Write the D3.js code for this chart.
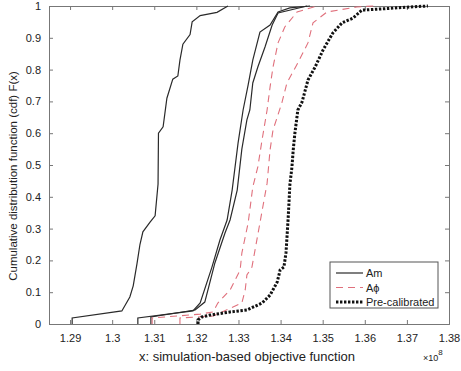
<!DOCTYPE html>
<html>
<head>
<meta charset="utf-8">
<script src="https://d3js.org/d3.v7.min.js"></script>
<style>
  body { margin: 0; background: #fff; }
  svg text { font-family: "Liberation Sans", Arial, sans-serif; fill: #222; }
</style>
</head>
<body>
<script>
// tick values
var xTicks = [1.29, 1.30, 1.31, 1.32, 1.33, 1.34, 1.35, 1.36, 1.37, 1.38];
var yTicks = [0, 0.1, 0.2, 0.3, 0.4, 0.5, 0.6, 0.7, 0.8, 0.9, 1];

// Am runs (solid black)  [x, F(x)]
var am1 = [[1.2905,0],[1.2905,0.019],[1.3023,0.041],[1.3042,0.085],[1.3050,0.12],[1.3059,0.19],[1.3066,0.25],[1.3073,0.29],[1.3090,0.32],[1.3102,0.34],[1.3109,0.44],[1.3110,0.60],[1.3121,0.62],[1.3130,0.71],[1.3144,0.77],[1.3156,0.78],[1.3161,0.83],[1.3168,0.88],[1.3185,0.91],[1.3190,0.95],[1.3209,0.97],[1.3249,0.98],[1.3275,1.0]];
var am2 = [[1.3061,0],[1.3061,0.019],[1.3192,0.041],[1.3209,0.066],[1.3237,0.179],[1.3256,0.264],[1.3273,0.327],[1.3285,0.421],[1.3299,0.569],[1.3311,0.673],[1.3323,0.752],[1.3334,0.830],[1.3351,0.918],[1.3375,0.940],[1.3394,0.981],[1.3422,0.994],[1.3470,1.0]];
var am3 = [[1.3092,0],[1.3092,0.022],[1.3197,0.044],[1.3220,0.069],[1.3244,0.192],[1.3268,0.286],[1.3280,0.327],[1.3297,0.421],[1.3308,0.55],[1.3320,0.642],[1.3327,0.673],[1.3334,0.758],[1.3346,0.808],[1.3363,0.871],[1.3380,0.940],[1.3394,0.978],[1.3463,1.0]];

// A-phi runs (dashed red)
var aphi1 = [[1.3095,0],[1.3095,0.019],[1.3209,0.031],[1.3240,0.038],[1.3251,0.066],[1.3280,0.107],[1.3304,0.170],[1.3308,0.223],[1.3323,0.318],[1.3334,0.431],[1.3346,0.494],[1.3356,0.579],[1.3368,0.673],[1.3375,0.745],[1.3382,0.808],[1.3394,0.884],[1.3410,0.934],[1.3439,0.981],[1.3486,1.0]];
var aphi2 = [[1.3161,0],[1.3161,0.019],[1.3240,0.025],[1.3308,0.066],[1.3316,0.107],[1.3320,0.154],[1.3332,0.179],[1.3351,0.318],[1.3368,0.443],[1.3375,0.547],[1.3382,0.61],[1.3403,0.695],[1.3415,0.758],[1.3441,0.821],[1.3465,0.884],[1.3477,0.947],[1.3510,0.981],[1.3581,0.997],[1.3620,1.0]];

// pre-calibrated (dotted)
var precal = [[1.3204,0],[1.3204,0.013],[1.3213,0.022],[1.3232,0.028],[1.3280,0.038],[1.3320,0.044],[1.3356,0.066],[1.3375,0.091],[1.3392,0.132],[1.3399,0.170],[1.3408,0.179],[1.3413,0.226],[1.3418,0.333],[1.3420,0.384],[1.3422,0.437],[1.3427,0.494],[1.3430,0.547],[1.3434,0.60],[1.3441,0.673],[1.3451,0.698],[1.3465,0.767],[1.3482,0.808],[1.3501,0.862],[1.3524,0.915],[1.3546,0.947],[1.3572,0.962],[1.3593,0.987],[1.3643,0.991],[1.3707,0.997],[1.3750,1.0]];

var legendNames = ["Am", "A\u03d5", "Pre-calibrated"];

var width = 461, height = 371;
var margin = {left: 49, right: 12, top: 6, bottom: 47};

var svg = d3.select("body").append("svg")
    .attr("width", width)
    .attr("height", height);

var x = d3.scaleLinear().domain([1.285, 1.38]).range([margin.left, width - margin.right]);
var y = d3.scaleLinear().domain([0, 1]).range([height - margin.bottom, margin.top]);

var fmt = function(d) { return String(+d.toFixed(2)); };

// axes, ticks pointing inward like matlab
svg.append("g")
    .attr("transform", "translate(0," + y(0) + ")")
    .call(d3.axisBottom(x).tickValues(xTicks).tickSize(-4).tickPadding(10).tickFormat(fmt));
svg.append("g")
    .attr("transform", "translate(0," + y(1) + ")")
    .call(d3.axisTop(x).tickValues(xTicks).tickSize(-4).tickFormat(""));
svg.append("g")
    .attr("transform", "translate(" + x.range()[0] + ",0)")
    .call(d3.axisLeft(y).tickValues(yTicks).tickSize(-4).tickPadding(8).tickFormat(fmt));
svg.append("g")
    .attr("transform", "translate(" + x.range()[1] + ",0)")
    .call(d3.axisRight(y).tickValues(yTicks).tickSize(-4).tickFormat(""));

svg.selectAll(".domain").attr("stroke", "#777");
svg.selectAll(".tick line").attr("stroke", "#777");
svg.selectAll(".tick text").style("font-size", "11px").attr("fill", "#222");

var line = d3.line().x(d => x(d[0])).y(d => y(d[1]));

var g = svg.append("g");

[am1, am2, am3].forEach(function(s) {
    g.append("path").datum(s)
        .attr("d", line)
        .attr("fill", "none")
        .attr("stroke", "#2a2a2a")
        .attr("stroke-width", 1.2);
});

[aphi1, aphi2].forEach(function(s) {
    g.append("path").datum(s)
        .attr("d", line)
        .attr("fill", "none")
        .attr("stroke", "#e0707c")
        .attr("stroke-width", 1.1)
        .attr("stroke-dasharray", "7,5");
});

g.append("path").datum(precal)
    .attr("d", line)
    .attr("fill", "none")
    .attr("stroke", "#111")
    .attr("stroke-width", 3)
    .attr("stroke-dasharray", "2.4,1.6");

// axis labels
svg.append("text")
    .attr("x", 247).attr("y", 361)
    .attr("text-anchor", "middle")
    .style("font-size", "13px")
    .text("x: simulation-based objective function");

svg.append("text")
    .attr("transform", "translate(17,176) rotate(-90)")
    .attr("text-anchor", "middle")
    .style("font-size", "11.5px")
    .text("Cumulative distribution function (cdf) F(x)");

var exp = svg.append("text")
    .attr("x", 423).attr("y", 361)
    .style("font-size", "9px")
    .attr("fill", "#555");
exp.append("tspan").text("\u00d710");
exp.append("tspan").attr("dy", -6).style("font-size", "8px").text("8");

// legend
var lg = svg.append("g").attr("transform", "translate(330,262)");
lg.append("rect")
    .attr("width", 108).attr("height", 46)
    .attr("fill", "#fff")
    .attr("stroke", "#555");
var styles = [
    {stroke: "#2a2a2a", w: 1.2, dash: null},
    {stroke: "#e0707c", w: 1.1, dash: "7,5"},
    {stroke: "#111", w: 3, dash: "2.4,1.6"}
];
legendNames.forEach(function(name, i) {
    var yy = 11 + i * 14.5;
    lg.append("line")
        .attr("x1", 6).attr("x2", 33)
        .attr("y1", yy).attr("y2", yy)
        .attr("stroke", styles[i].stroke)
        .attr("stroke-width", styles[i].w)
        .attr("stroke-dasharray", styles[i].dash);
    lg.append("text")
        .attr("x", 36).attr("y", yy + 4)
        .style("font-size", "11px")
        .text(name);
});
</script>
</body>
</html>
